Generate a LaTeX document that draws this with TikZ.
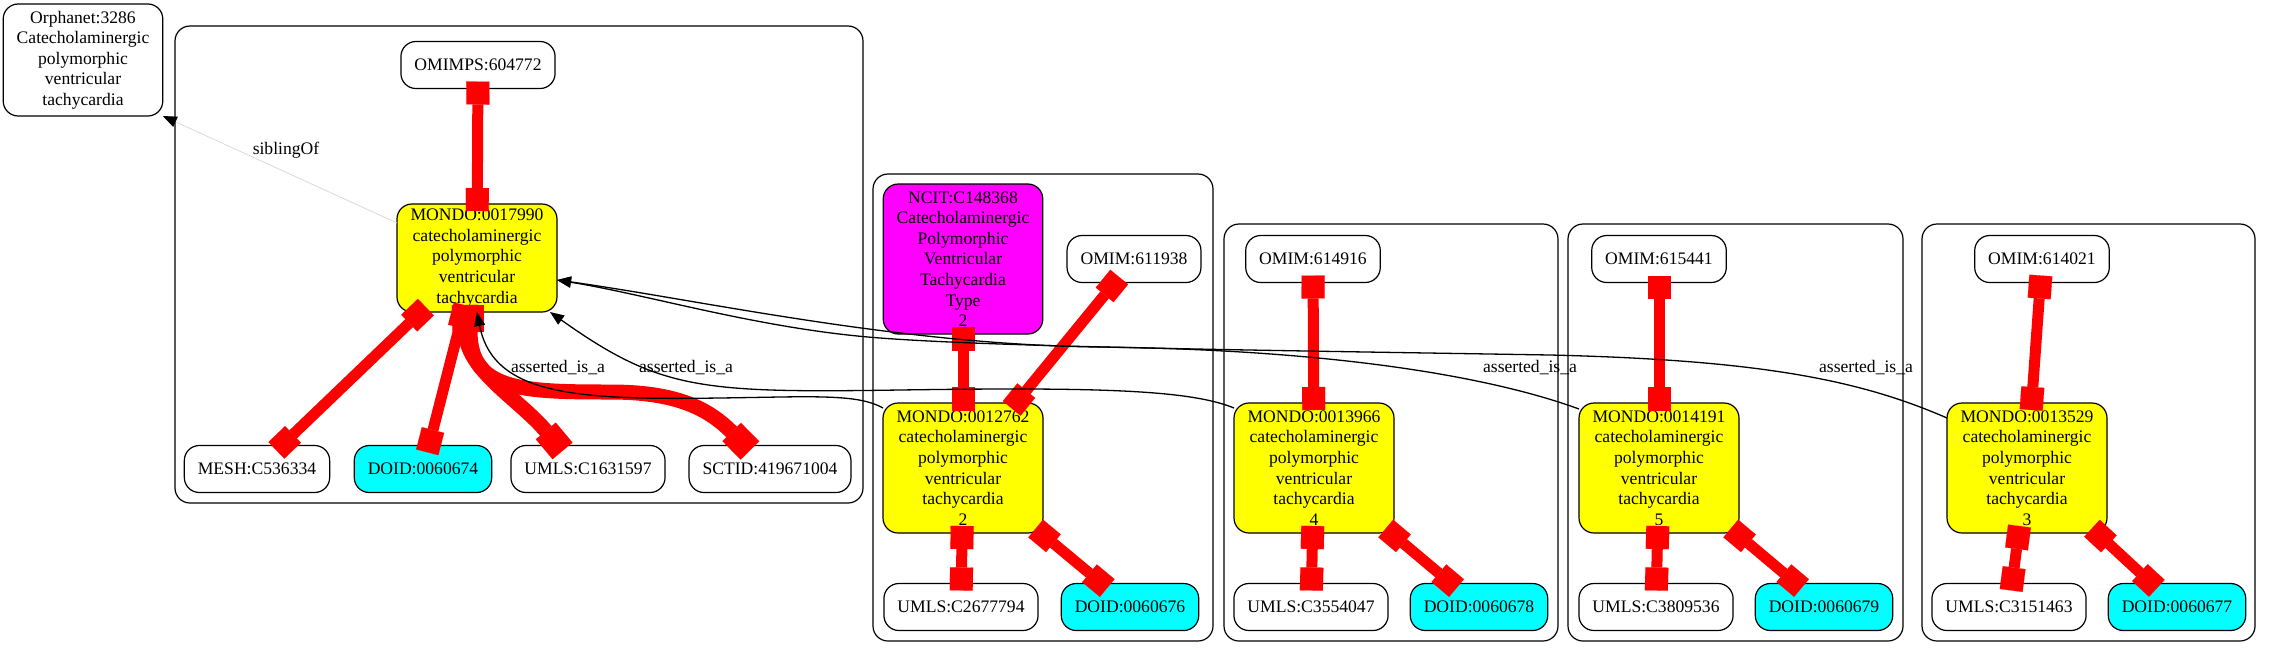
\documentclass[tikz,border=0pt]{standalone}
\usepackage{fontspec}
\setmainfont{Liberation Serif}
\usetikzlibrary{positioning}
\usetikzlibrary{arrows.meta}
\definecolor{mondofill}{RGB}{255,255,0}
\definecolor{doidfill}{RGB}{0,255,255}
\definecolor{ncitfill}{RGB}{255,0,255}
\definecolor{linkred}{RGB}{255,0,0}

\begin{document}
\begin{tikzpicture}[x=1pt,y=-1pt,every node/.style={outer sep=0pt},
 term/.style={draw,line width=1.2pt,rounded corners=15pt,align=center,
 font=\fontsize{17.6}{20.6}\selectfont,inner xsep=13.5pt,inner ysep=3pt,
 minimum height=47pt},
 mondo/.style={term,fill=mondofill,minimum height=130pt},
 doid/.style={term,fill=doidfill},
 ncit/.style={term,fill=ncitfill,minimum height=150pt},
 grp/.style={draw,line width=1.2pt,rounded corners=15pt},
 redlink/.style={draw=linkred,line width=11pt,
 {Square[length=23pt,width=23pt,line width=0.1pt]}-{Square[length=23pt,width=23pt,line width=0.1pt]},
 shorten <=-7pt,shorten >=-7pt},
 redthick/.style={redlink,line width=15pt,
 {Square[length=26pt,width=26pt,line width=0.1pt]}-{Square[length=26pt,width=26pt,line width=0.1pt]}},
 isa/.style={line width=1.3pt,-{Triangle[length=14pt,width=11pt]}},
 sib/.style={draw=black!15,line width=0.8pt,-{Triangle[length=14pt,width=11pt,color=black]}},
 lbl/.style={font=\fontsize{17.6}{20.6}\selectfont,inner sep=0pt}]

 \useasboundingbox (0,0) rectangle (2273,657);

 % clusters
 \draw[grp] (175,26) rectangle (863,503);
 \draw[grp] (873,174) rectangle (1213,641);
 \draw[grp] (1224,224) rectangle (1558,641);
 \draw[grp] (1568,224) rectangle (1903,641);
 \draw[grp] (1922,224) rectangle (2255,641);

 \node[term,minimum height=112pt] (orphanet) at (83,60)
  {Orphanet:3286\\Catecholaminergic\\polymorphic\\ventricular\\tachycardia};

 \node[term] (omimps) at (478,65) {OMIMPS:604772};
 \node[mondo,minimum height=108pt] (mondo1) at (477,258)
  {MONDO:0017990\\catecholaminergic\\polymorphic\\ventricular\\tachycardia};
 \node[term] (mesh) at (257,469) {MESH:C536334};
 \node[doid] (doid1) at (423,469) {DOID:0060674};
 \node[term] (umls1) at (588,469) {UMLS:C1631597};
 \node[term] (sctid) at (770,469) {SCTID:419671004};

 \node[ncit] (ncit) at (963,259)
  {NCIT:C148368\\Catecholaminergic\\Polymorphic\\Ventricular\\Tachycardia\\Type\\2};
 \node[term] (omim2) at (1134,259) {OMIM:611938};
 \node[mondo] (mondo2) at (963,468)
  {MONDO:0012762\\catecholaminergic\\polymorphic\\ventricular\\tachycardia\\2};
 \node[term] (umls2) at (961,607) {UMLS:C2677794};
 \node[doid] (doid2) at (1130,607) {DOID:0060676};

 \node[term] (omim3) at (1313,259) {OMIM:614916};
 \node[mondo] (mondo3) at (1314,468)
  {MONDO:0013966\\catecholaminergic\\polymorphic\\ventricular\\tachycardia\\4};
 \node[term] (umls3) at (1311,607) {UMLS:C3554047};
 \node[doid] (doid3) at (1479,607) {DOID:0060678};

 \node[term] (omim4) at (1659,259) {OMIM:615441};
 \node[mondo] (mondo4) at (1659,468)
  {MONDO:0014191\\catecholaminergic\\polymorphic\\ventricular\\tachycardia\\5};
 \node[term] (umls4) at (1656,607) {UMLS:C3809536};
 \node[doid] (doid4) at (1824,607) {DOID:0060679};

 \node[term] (omim5) at (2042,259) {OMIM:614021};
 \node[mondo] (mondo5) at (2027,468)
  {MONDO:0013529\\catecholaminergic\\polymorphic\\ventricular\\tachycardia\\3};
 \node[term] (umls5) at (2009,607) {UMLS:C3151463};
 \node[doid] (doid5) at (2177,607) {DOID:0060677};

 % red links
 \draw[redlink] (omimps) -- (mondo1);
 \draw[redlink] (mondo1) -- (mesh);
 \draw[redlink] (mondo1) -- (doid1);
 \draw[redthick] ([xshift=-12pt]mondo1.south) .. controls (466,370) and (520,400)
  .. ([xshift=-30pt]umls1.north);
 \draw[redthick] ([xshift=-7pt]mondo1.south) .. controls (470,390) and (520,392)
  .. (610,392) .. controls (670,392) and (705,405) .. ([xshift=-25pt]sctid.north);
 \draw[redlink] (ncit) -- (mondo2);
 \foreach \X in {2,...,5}
 {\draw[redlink] (omim\X) -- (mondo\X);
  \draw[redlink] (mondo\X) -- (umls\X);
  \draw[redlink] (mondo\X) -- (doid\X);
 }

 % is_a edges
 \draw[sib] ([yshift=-19pt]mondo1.north west) -- (orphanet.south east);
 \node[lbl] (sibl) at (286,150) {siblingOf};

 \draw[isa] ([yshift=-5pt]mondo2.north west) .. controls (865,398) and (840,396)
  .. (780,397) .. controls (600,400) and (495,405) .. (mondo1.south);
 \draw[isa] ([yshift=-5pt]mondo3.north west) .. controls (1190,390) and (1100,387)
  .. (900,390) .. controls (700,393) and (660,390) .. ([xshift=-7pt]mondo1.south east);
 \draw[isa] ([yshift=-6pt]mondo4.north west) .. controls (1500,380) and (1350,350)
  .. (1100,347) .. controls (900,345) and (700,300) .. ([yshift=-22pt]mondo1.east);
 \draw[isa] ([yshift=-15pt]mondo5.north west) .. controls (1860,380) and (1760,360)
  .. (1550,355) .. controls (1250,350) and (1000,347) .. (880,338)
  .. controls (760,329) and (650,295) .. ([yshift=-22pt]mondo1.east);

 \node[lbl] (isa2) at (558,368) {asserted\_is\_a};
 \node[lbl] (isa3) at (686,368) {asserted\_is\_a};
 \node[lbl] (isa4) at (1530,368) {asserted\_is\_a};
 \node[lbl] (isa5) at (1866,368) {asserted\_is\_a};

\end{tikzpicture}
\end{document}
